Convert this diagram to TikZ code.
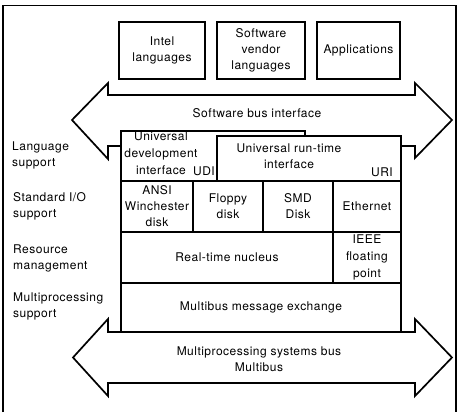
\documentclass[tikz,border=0pt]{standalone}
\usepackage{fontspec}
\setmainfont{TeX Gyre Heros}[LetterSpace=4]
\begin{document}
\begin{tikzpicture}[x=1pt,y=-1pt,line join=miter,
  font=\fontsize{12}{16}\selectfont,
  frameline/.style={line width=1.4pt},
  busarrow/.style={draw,fill=white,line width=1.7pt},
  box/.style={draw,fill=white,line width=1.7pt,inner sep=0pt,align=center},
  txt/.style={inner sep=0pt,align=center},
  lbl/.style={inner sep=0pt,align=left,anchor=west}]
\useasboundingbox (0,0) rectangle (460,412);
% outer frame (open at the bottom)
\draw[frameline] (3,412) -- (3,5.5) -- (456,5.5) -- (456,412);
% top boxes
\node[box,minimum width=86pt,minimum height=57pt] (intel) at (162,50.5) {Intel\\languages};
\node[box,minimum width=88pt,minimum height=57pt] (vendor) at (261,50.5) {Software\\vendor\\languages};
\node[box,minimum width=83pt,minimum height=57pt] (apps) at (358.5,50.5) {Applications};
% software bus arrow
\draw[busarrow] (108,95) -- (415,95) -- (415,83) -- (452,120) -- (415,158) -- (415,146)
  -- (108,146) -- (108,159) -- (72,120) -- (108,83) -- cycle;
\node[txt] (swbus) at (257,113) {Software bus interface};
% UDI and URI
\node[box,minimum width=184pt,minimum height=50pt] (udi) at (213,156) {};
\node[txt,font=\fontsize{12}{17}\selectfont] (udit) at (161,153) {Universal\\development\\interface};
\node[txt] (udil) at (204,171) {UDI};
\node[box,minimum width=184pt,minimum height=45pt] (uri) at (309,158.5) {};
\node[txt] (urit) at (289,156) {Universal run-time\\interface};
\node[txt] (uril) at (382,172) {URI};
% standard I/O row
\node[box,minimum width=72pt,minimum height=51pt] (ansi) at (157,206.5) {ANSI\\Winchester\\disk};
\node[box,minimum width=70pt,minimum height=51pt] (floppy) at (228,206.5) {Floppy\\disk};
\node[box,minimum width=70pt,minimum height=51pt] (smd) at (298,206.5) {SMD\\Disk};
\node[box,minimum width=68pt,minimum height=51pt] (eth) at (367,206.5) {Ethernet};
% resource row
\node[box,minimum width=212pt,minimum height=51pt] (rtn) at (227,257.5) {Real-time nucleus};
\node[box,minimum width=68pt,minimum height=51pt,font=\fontsize{12}{17}\selectfont] (ieee) at (367,257.5) {IEEE\\floating\\point};
% multiprocessing bus arrow
\draw[busarrow] (108,332) -- (415,332) -- (415,319) -- (452,357.5) -- (415,396) -- (415,383)
  -- (108,383) -- (108,396) -- (73,357.5) -- (108,319) -- cycle;
\node[txt] (mpbus) at (259,359) {Multiprocessing systems bus\\Multibus};
% message exchange
\node[box,minimum width=280pt,minimum height=49pt] (mbx) at (261,307.5) {Multibus message exchange};
% left labels
\node[lbl] (lang) at (12,155) {Language\\support};
\node[lbl] (stdio) at (13,206) {Standard I/O\\support};
\node[lbl] (res) at (13,258.5) {Resource\\management};
\node[lbl] (mp) at (13,306.5) {Multiprocessing\\support};
\end{tikzpicture}
\end{document}
